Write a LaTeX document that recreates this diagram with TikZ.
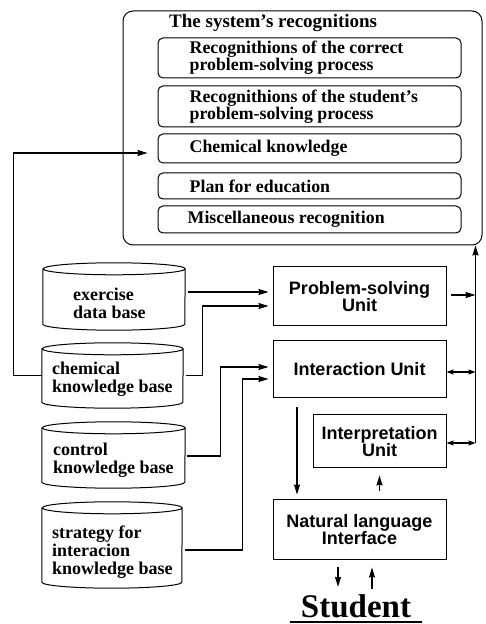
\documentclass[tikz,border=0pt]{standalone}
\usepackage{fontspec}
\setmainfont{Liberation Serif}
\setsansfont{Liberation Sans}
\usetikzlibrary{arrows.meta}
\newcommand\cylpath[3]{%
  \draw[line width=1pt] ([yshift=-#3]#1.north west) -- ([yshift=#3]#1.south west)
    arc[start angle=180,end angle=360,x radius=#2,y radius=#3]
    -- ([yshift=-#3]#1.north east)
    arc[start angle=0,end angle=360,x radius=#2,y radius=#3];}
\begin{document}
\begin{tikzpicture}[x=1pt,y=1pt,
  rbox/.style={draw, line width=1pt, rounded corners=5pt, minimum width=303pt, inner sep=0pt},
  lbl/.style={anchor=west, font=\fontsize{17.8}{17}\selectfont\bfseries, align=left, inner sep=0pt},
  unit/.style={draw, line width=1pt, inner sep=0pt, minimum width=173pt, font=\sffamily\bfseries\fontsize{18}{17}\selectfont, align=center},
  cylnode/.style={inner sep=0pt},
  cyltxt/.style={anchor=west, font=\fontsize{18}{18}\selectfont\bfseries, align=left, inner sep=0pt},
  conn/.style={line width=1.3pt, -{Stealth[length=10pt,width=6pt,inset=1pt]}},
  dconn/.style={line width=1.3pt, {Stealth[length=7pt,width=5pt,inset=1pt]}-{Stealth[length=7pt,width=5pt,inset=1pt]}},
]
\useasboundingbox (0,0) rectangle (486,624);

% system's recognitions
\node[draw, line width=1pt, rounded corners=10pt, minimum width=359pt, minimum height=234pt, inner sep=0pt] (sys) at (302.5,496) {};
\node[lbl, font=\fontsize{19}{19}\selectfont\bfseries] (title) at (169,601) {The system's recognitions};
\node[rbox, minimum height=40pt] (b1) at (309.5,566) {};
\node[rbox, minimum height=41pt] (b2) at (309.5,517.5) {};
\node[rbox, minimum height=29pt] (b3) at (309.5,475.5) {};
\node[rbox, minimum height=26pt] (b4) at (309.5,438) {};
\node[rbox, minimum height=27pt] (b5) at (309.5,404.5) {};
\node[lbl] (t1) at ([xshift=32pt]b1.west) {Recognithions of the correct\\problem-solving process};
\node[lbl] (t2) at ([xshift=32pt]b2.west) {Recognithions of the student's\\problem-solving process};
\node[lbl] (t3) at ([xshift=32pt]b3.west) {Chemical knowledge};
\node[lbl] (t4) at ([xshift=32pt]b4.west) {Plan for education};
\node[lbl] (t5) at ([xshift=30pt]b5.west) {Miscellaneous recognition};

% data bases
\node[cylnode, minimum width=142pt, minimum height=67pt] (ex) at (114,327.5) {};
\node[cylnode, minimum width=141pt, minimum height=65pt] (chem) at (112.5,248.5) {};
\node[cylnode, minimum width=143pt, minimum height=66pt] (ctrl) at (113.5,169) {};
\node[cylnode, minimum width=140pt, minimum height=86pt] (strat) at (112,79) {};
\cylpath{ex}{71pt}{6pt}
\cylpath{chem}{70.5pt}{6pt}
\cylpath{ctrl}{71.5pt}{6pt}
\cylpath{strat}{70pt}{6pt}
\node[cyltxt] (exT) at (73,321) {exercise\\data base};
\node[cyltxt] (chemT) at (52,245) {chemical\\knowledge base};
\node[cyltxt] (ctrlT) at (53,164) {control\\knowledge base};
\node[cyltxt] (stratT) at (52,71.5) {strategy for\\interacion\\knowledge base};

% units
\node[unit, minimum height=59pt] (psu) at (359.5,327.5) {Problem-solving\\Unit};
\node[unit, minimum height=57pt] (inter) at (359.5,254.5) {Interaction Unit};
\node[unit, minimum width=133pt, minimum height=53pt] (interp) at (379.5,182.5) {Interpretation\\Unit};
\node[unit, minimum height=60pt] (nli) at (359.5,94) {Natural language\\Interface};

% student
\node[font=\bfseries\fontsize{33}{33}\selectfont, inner xsep=11pt, inner ysep=0pt, anchor=base] (stu) at (356,6) {Student};
\draw[line width=1.2pt] ([yshift=-4pt]stu.base west) -- ([yshift=-4pt]stu.base east);

% connectors
\draw[conn, shorten >=10pt] (chem.west) -- ++(-28,0) |- ([yshift=-4.5pt]b3.west);
\coordinate (pa) at ([yshift=4.5pt]psu.west);
\draw[conn, shorten <=3pt, shorten >=4pt] (ex.east |- pa) -- (pa);
\draw[conn, shorten >=4pt] ([xshift=3pt]chem.east) -- ++(16,0) |- ([yshift=-9.5pt]psu.west);
\draw[conn, shorten >=4pt] ([xshift=2pt,yshift=-1pt]ctrl.east) -- ++(33,0) |- ([yshift=2.5pt]inter.west);
\draw[conn, shorten >=4pt] ([xshift=3pt,yshift=-5pt]strat.east) -- ++(57,0) |- ([yshift=-9.5pt]inter.west);
\draw[conn, shorten <=9pt, shorten >=5pt] ([xshift=-62.5pt]inter.south) -- ([xshift=-62.5pt]nli.north);
\draw[conn, shorten <=8pt, shorten >=7pt] (interp.south |- nli.north) -- (interp.south);
\draw[conn, shorten <=7pt, shorten >=8pt] ([xshift=-21.5pt]nli.south) -- ([xshift=-21.5pt]nli.south |- stu.north);
\draw[conn, shorten <=6pt, shorten >=7pt] ([xshift=12.5pt]nli.south |- stu.north) -- ([xshift=12.5pt]nli.south);

% right bus
\coordinate (busB) at ([xshift=29pt,yshift=-1.5pt]interp.east);
\draw[conn] (busB) -- (busB |- sys.south);
\draw[conn, shorten <=4pt] ([yshift=1.5pt]psu.east) -- ([yshift=1.5pt]psu.east -| busB);
\draw[dconn] ([yshift=-2.5pt]inter.east) -- ([yshift=-2.5pt]inter.east -| busB);
\draw[dconn] ([yshift=-1.5pt]interp.east) -- (busB);
\end{tikzpicture}
\end{document}
